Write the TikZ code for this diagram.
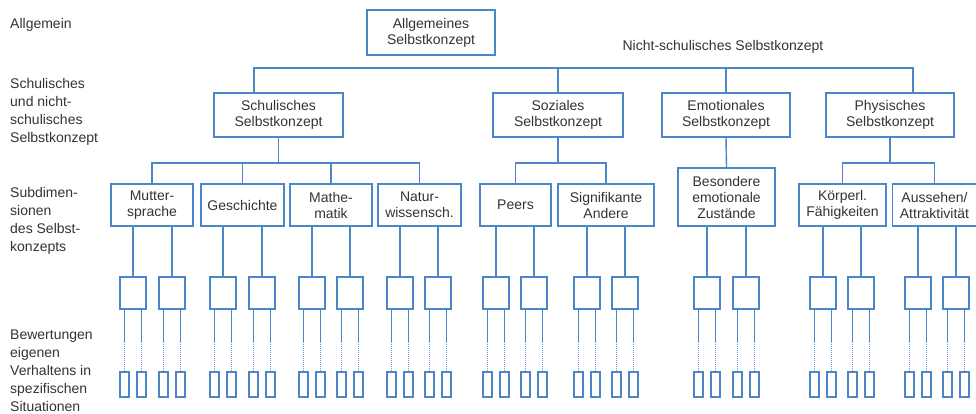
\documentclass[tikz,border=0pt]{standalone}
\usepackage{fontspec}
\setmainfont{Liberation Sans}
\definecolor{lineblue}{HTML}{4A86C8}
\definecolor{txt}{HTML}{333333}
\begin{document}
\begin{tikzpicture}[x=1pt,y=-1pt,
  conn/.style={draw=lineblue,line width=1.4pt},
  dotconn/.style={draw=lineblue!80,line width=1pt,dash pattern=on 0.8pt off 1.2pt},
  box/.style={draw=lineblue,line width=1.4pt,inner sep=0pt,align=center,
    text=txt,font=\fontsize{14}{16}\selectfont},
  small/.style={draw=lineblue,line width=1.4pt,inner sep=0pt,minimum width=26pt,minimum height=32pt},
  tiny/.style={draw=lineblue,line width=1.4pt,inner sep=0pt,minimum width=9pt,minimum height=25pt},
  lbl/.style={inner sep=0pt,align=left,anchor=west,text=txt,font=\fontsize{14}{18}\selectfont}]
\useasboundingbox (0,0) rectangle (976,414);

% left labels
\node[lbl] (l1) at (10,25) {Allgemein};
\node[lbl] (l2) at (10,111.5) {Schulisches\\und nicht-\\schulisches\\Selbstkonzept};
\node[lbl] (l3) at (10,220.5) {Subdimen-\\sionen\\des Selbst-\\konzepts};
\node[lbl] (l4) at (10,370.5) {Bewertungen\\eigenen\\Verhaltens in\\spezifischen\\Situationen};

% top
\node[box,minimum width=128pt,minimum height=45pt] (top) at (431,32.5) {Allgemeines\\Selbstkonzept};
\node[inner sep=0pt,text=txt,font=\fontsize{14}{16}\selectfont] (ns) at (723,47) {Nicht-schulisches Selbstkonzept};

% level 2
\node[box,minimum width=129pt,minimum height=44pt] (S1) at (278.5,115) {Schulisches\\Selbstkonzept};
\node[box,minimum width=130pt,minimum height=44pt] (S2) at (558,115) {Soziales\\Selbstkonzept};
\node[box,minimum width=128pt,minimum height=44pt] (S3) at (726,115) {Emotionales\\Selbstkonzept};
\node[box,minimum width=128pt,minimum height=44pt] (S4) at (890,115) {Physisches\\Selbstkonzept};

% level 3
\node[box,minimum width=82pt,minimum height=42pt] (D1) at (152,205) {Mutter-\\sprache};
\node[box,minimum width=83pt,minimum height=42pt] (D2) at (242.5,205) {Geschichte};
\node[box,minimum width=82pt,minimum height=42pt] (D3) at (331,205) {Mathe-\\matik};
\node[box,minimum width=83pt,minimum height=42pt] (D4) at (419.5,205) {Natur-\\wissensch.};
\node[box,minimum width=71pt,minimum height=42pt] (D5) at (515.5,205) {Peers};
\node[box,minimum width=96pt,minimum height=42pt] (D6) at (606,205) {Signifikante\\Andere};
\node[box,minimum width=97pt,minimum height=58pt] (D7) at (726.5,197) {Besondere\\emotionale\\Zustände};
\node[box,minimum width=87pt,minimum height=42pt] (D8) at (842.5,205) {Körperl.\\Fähigkeiten};
\node[box,minimum width=84pt,minimum height=42pt] (D9) at (934.5,205) {Aussehen/\\Attraktivität};

% buses
\coordinate (busL) at (254,68);
\coordinate (busR) at (913,68);
\draw[conn] (S1.north -| busL) -- (busL) -- (busR) -- (S4.north -| busR);
\draw[conn] (S2.north) -- (S2.north |- busL);
\draw[conn] (S3.north) -- (S3.north |- busL);

\coordinate (b3) at (0,163);
\draw[conn] (D1.north) -- (D1.north |- b3) -- (D4.north |- b3) -- (D4.north);
\draw[conn] (D2.north) -- (D2.north |- b3);
\draw[conn] (D3.north) -- (D3.north |- b3);
\draw[conn] (S1.south) -- (S1.south |- b3);
\draw[conn] (D5.north) -- (D5.north |- b3) -- (D6.north |- b3) -- (D6.north);
\draw[conn] (S2.south) -- (S2.south |- b3);
\draw[conn] (S3.south) -- (D7.north);
\draw[conn] (D8.north) -- (D8.north |- b3) -- (D9.north |- b3) -- (D9.north);
\draw[conn] (S4.south) -- (S4.south |- b3);

% levels 4 and 5
\foreach \d/\xa/\xb in {D1/133/172, D2/223/262, D3/312/350, D4/400/438, D5/496/534,
                        D6/587/625, D7/707/746, D8/823/861, D9/918/956}{
  \foreach \xc [count=\k] in {\xa,\xb}{
    \node[small] (\d s\k) at (\xc,293) {};
    \draw[conn] (\d.south -| \d s\k.north) -- (\d s\k.north);
    \node[tiny] (\d s\k a) at (\xc-8.5,384.5) {};
    \node[tiny] (\d s\k b) at (\xc+8.5,384.5) {};
    \foreach \t in {a,b}{
      \draw[conn] (\d s\k.south -| \d s\k\t.north) -- ++(0,32) coordinate (\d s\k\t m);
      \draw[dotconn] (\d s\k\t m) -- (\d s\k\t.north);
    }
  }
}
\end{tikzpicture}
\end{document}
